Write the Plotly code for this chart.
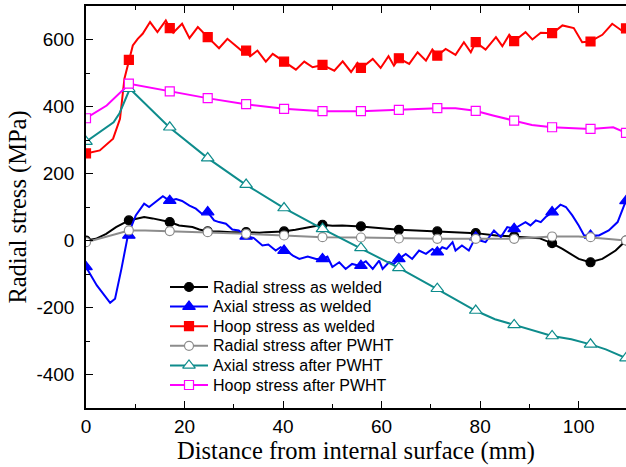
import plotly.graph_objects as go

# ---------------- data ----------------
MARKER_X = [0, 8.7, 17, 24.7, 32.5, 40.2, 48, 55.8, 63.5, 71.3, 79.1, 86.9, 94.6, 102.4, 109.6]

HOOP_W_X = [0, 2.8, 5.5, 6.9, 7.8, 8.7, 9.5, 10.5, 11.5, 13, 14.5, 16.2, 17, 17.7, 19.5, 21, 22.7,
            24.7, 25.6, 27, 28.7, 31.8, 32.5, 33.3, 34.8, 36.5, 37.9, 40.2, 42.6, 44.3, 46, 48, 50.4,
            52.1, 53.8, 55.1, 55.9, 58.2, 59.8, 61.4, 62.5, 63.5, 65.6, 67.3, 69, 70.3, 71.3, 73, 75,
            76.7, 78.1, 79.1, 81.1, 83.2, 84.5, 85.9, 86.9, 89.2, 90.6, 92.3, 94.7, 96.7, 99, 100.7,
            102.3, 104.8, 106.8, 108.7, 109.6]
HOOP_W_Y = [260, 269, 304, 363, 483, 539, 582, 602, 617, 652, 622, 657, 634, 620, 647, 604, 637,
            607, 594, 574, 602, 564, 567, 550, 567, 534, 557, 534, 510, 534, 517, 524, 507,
            535, 503, 530, 515, 542, 515, 550, 522, 544, 527, 562, 537, 570, 552, 572, 554,
            592, 562, 592, 570, 607, 580, 614, 595, 622, 600, 620, 619, 642, 634, 592,
            594, 614, 647, 627, 633]
HOOP_W_MY = [260, 539, 634, 607, 567, 534, 524, 515, 544, 552, 592, 595, 619, 594, 633]

AXIAL_W_X = [0, 2.2, 4.9, 5.9, 7.2, 8.5, 10.1, 11.8, 12.8, 14.2, 15.6, 16.9, 18.3, 19.5, 21, 22.3,
             23.5, 24.7, 26, 27, 28.4, 29.7, 31, 32.5, 34, 35.8, 37, 38.5, 39.5, 40.6, 42, 43.3, 45,
             46.7, 48, 49, 50, 51.4, 52.7, 54, 55.4, 56.8, 58.2, 59.5, 60.2, 61.5, 62.5, 63.5, 64.9,
             66.2, 67.6, 69, 70.3, 71.3, 72.3, 73.2, 74.4, 75, 76.3, 77.7, 79.1, 80, 81.1, 82.8, 84.2,
             85.5, 86.9, 89.2, 90.2, 91.3, 92.3, 93.3, 94.7, 96.3, 97.4, 98.7, 100, 101.1, 102.4,
             104.1, 106.1, 107.9, 109.2, 109.6]
AXIAL_W_Y = [-79, -134, -186, -174, -84, 15, 75, 110, 100, 115, 132, 119, 124, 118, 104, 95,
             80, 85, 60, 55, 50, 33, 30, 12, 8, -15, -12, -30, -20, -30, -45, -55, -48,
             -55, -55, -48, -79, -65, -85, -70, -75, -62, -85, -60, -85, -65, -70, -55, -40,
             -55, -30, -40, -25, -35, -20, -25, -5, -30, -15, -30, 10, 0, -5, 30, 10,
             40, 35, 55, 45, 60, 55, 70, 85, 107, 100, 75, 45, 15, 15,
             15, 30, 55, 104, 118]
AXIAL_W_MY = [-79, 15, 119, 85, 12, -30, -55, -75, -55, -35, 10, 35, 85, 15, 118]

RADIAL_W_X = [0, 2, 4.1, 6.1, 8.7, 10, 11.8, 13.5, 15.5, 17, 18.9, 21.6, 23, 24.7, 27, 29.5, 32.6,
              35.2, 36.5, 39.9, 42.5, 45.3, 48, 50, 52, 55.8, 59, 63.5, 67, 71.3, 73, 79.1, 83.2,
              88, 92, 94.5, 96.7, 100, 102.3, 104.8, 107.5, 109.6]
RADIAL_W_Y = [0, 5, 20, 40, 60, 65, 70, 66, 60, 55, 45, 40, 33, 27, 27, 25, 25,
              23, 25, 27, 32, 40, 47, 44, 45, 42, 38, 32, 30, 27, 25, 22, 15,
              10, 7, -8, -25, -55, -65, -55, -30, 0]
RADIAL_W_MY = [0, 60, 55, 27, 25, 27, 47, 42, 32, 27, 22, 13, -8, -65, 0]

RADIAL_P_X = [0, 4, 8.7, 12, 17, 24.7, 32.6, 40.2, 48, 55.8, 63.5, 71.3, 79.1, 86.9, 94.5, 100,
              105.5, 109.6]
RADIAL_P_Y = [-5, 12, 30, 30, 28, 25, 20, 15, 10, 9, 6, 5, 5, 5, 12, 12, 5, 0]
RADIAL_P_MY = [-5, 30, 28, 25, 20, 15, 10, 9, 6, 5, 5, 5, 12, 10, 0]

AXIAL_P_X = [0, 2.8, 5.6, 6.8, 8.9, 16.9, 24.7, 32.4, 40.2, 48, 55.7, 63.5, 71.1, 79, 83, 86.9,
             91, 94.6, 98.5, 102.4, 105.5, 109.6]
AXIAL_P_Y = [295, 324, 353, 380, 453, 338, 246, 167, 97, 35, -22, -82, -144, -209, -235, -252,
             -268, -285, -295, -310, -325, -351]
AXIAL_P_MY = [295, 453, 338, 246, 167, 97, 35, -22, -82, -144, -209, -252, -285, -310, -351]

HOOP_P_X = [0, 4.2, 8.8, 16.9, 24.6, 32.4, 40.2, 48, 55.8, 63.5, 71.3, 75, 79, 82.6, 86.9, 90.5,
            94.6, 98.5, 102.4, 107, 109.6]
HOOP_P_Y = [365, 403, 468, 445, 425, 407, 393, 386, 386, 390, 395, 395, 387, 373, 358, 345,
            338, 335, 333, 338, 321]
HOOP_P_MY = [365, 468, 445, 425, 407, 393, 386, 386, 390, 395, 387, 358, 338, 333, 321]

X_TICKS = [0, 20, 40, 60, 80, 100]
X_TICK_TEXT = ["0", "20", "40", "60", "80", "100"]
Y_TICKS = [-400, -200, 0, 200, 400, 600]
Y_TICK_TEXT = ["-400", "-200", "0", "200", "400", "600"]

SERIES_NAMES = ["Radial stress as welded", "Axial stress as welded", "Hoop stress as welded",
                "Radial stress after PWHT", "Axial stress after PWHT", "Hoop stress after PWHT"]

# ---------------- styles ----------------
STYLES = [
    dict(col="#000000", sym="circle", fill="#000000", ms=9),
    dict(col="#0000FF", sym="triangle-up", fill="#0000FF", ms=11),
    dict(col="#FF0000", sym="square", fill="#FF0000", ms=9),
    dict(col="#8C8C8C", sym="circle", fill="#FFFFFF", ms=9),
    dict(col="#0E8C8C", sym="triangle-up", fill="#FFFFFF", ms=11),
    dict(col="#FF00FF", sym="square", fill="#FFFFFF", ms=9),
]
SERIES_DATA = [
    (RADIAL_W_X, RADIAL_W_Y, RADIAL_W_MY),
    (AXIAL_W_X, AXIAL_W_Y, AXIAL_W_MY),
    (HOOP_W_X, HOOP_W_Y, HOOP_W_MY),
    (RADIAL_P_X, RADIAL_P_Y, RADIAL_P_MY),
    (AXIAL_P_X, AXIAL_P_Y, AXIAL_P_MY),
    (HOOP_P_X, HOOP_P_Y, HOOP_P_MY),
]

# plot-area geometry in pixels
FIG_W, FIG_H = 626, 467
M_L, M_R, M_T, M_B = 86, 0, 6, 59
PLOT_W = FIG_W - M_L - M_R
PLOT_H = FIG_H - M_T - M_B

# legend layout (pixel offsets inside the plot area, via a hidden helper axis)
LEG_LINE_X0, LEG_LINE_X1 = 84, 122
LEG_TEXT_X = 125
LEG_ROW0_Y = 121
LEG_ROW_STEP = 19.6
SANS = "Liberation Sans, Arial, sans-serif"
SERIF = "Liberation Serif, Times New Roman, serif"

fig = go.Figure()
for name, (xs, ys, mys), st in zip(SERIES_NAMES, SERIES_DATA, STYLES):
    assert len(xs) == len(ys) and len(mys) == len(MARKER_X)
    fig.add_trace(go.Scatter(x=xs, y=ys, mode="lines", line=dict(color=st["col"], width=2),
                             showlegend=False, hoverinfo="skip"))
    fig.add_trace(go.Scatter(x=MARKER_X, y=mys, mode="markers", showlegend=False, name=name,
                             marker=dict(symbol=st["sym"], size=st["ms"], color=st["fill"],
                                         line=dict(color=st["col"], width=1.2))))

annotations = []
for i, (name, st) in enumerate(zip(SERIES_NAMES, STYLES)):
    yy = LEG_ROW0_Y - LEG_ROW_STEP * i
    fig.add_trace(go.Scatter(x=[LEG_LINE_X0, LEG_LINE_X1], y=[yy, yy], xaxis="x2", yaxis="y2",
                             mode="lines", line=dict(color=st["col"], width=2),
                             showlegend=False, hoverinfo="skip"))
    fig.add_trace(go.Scatter(x=[(LEG_LINE_X0 + LEG_LINE_X1) / 2], y=[yy], xaxis="x2", yaxis="y2",
                             mode="markers", showlegend=False, hoverinfo="skip", cliponaxis=False,
                             marker=dict(symbol=st["sym"], size=st["ms"], color=st["fill"],
                                         line=dict(color=st["col"], width=1.2))))
    annotations.append(dict(x=LEG_TEXT_X, y=yy, xref="x2", yref="y2", text=name, showarrow=False,
                            xanchor="left", yanchor="middle",
                            font=dict(family=SANS, size=16, color="#000000")))

axis_common = dict(
    showgrid=False, zeroline=False, showline=True, linecolor="#000000", linewidth=1.5,
    ticks="inside", ticklen=7, tickwidth=1.3, tickcolor="#000000",
    tickfont=dict(family=SANS, size=19, color="#000000"),
)

fig.update_layout(
    xaxis=dict(
        range=[0, 109.6], tickvals=X_TICKS, ticktext=X_TICK_TEXT, mirror="ticks",
        minor=dict(ticks="inside", ticklen=4, tickwidth=1.3, tickcolor="#000000", dtick=10, tick0=0),
        title=dict(text="Distance from internal surface (mm)",
                   font=dict(family=SERIF, size=24.5, color="#000000"), standoff=6),
        **axis_common,
    ),
    yaxis=dict(
        range=[-500, 700], tickvals=Y_TICKS, ticktext=Y_TICK_TEXT, mirror=False,
        ticklabelstandoff=6,
        minor=dict(ticks="inside", ticklen=4, tickwidth=1.3, tickcolor="#000000", dtick=100, tick0=0),
        title=dict(text="Radial stress (MPa)",
                   font=dict(family=SERIF, size=24.5, color="#000000"), standoff=3),
        **axis_common,
    ),
    xaxis2=dict(range=[0, PLOT_W], overlaying="x", visible=False, fixedrange=True),
    yaxis2=dict(range=[0, PLOT_H], overlaying="y", visible=False, fixedrange=True),
    width=FIG_W, height=FIG_H,
    margin=dict(l=M_L, r=M_R, t=M_T, b=M_B, pad=0),
    paper_bgcolor="#FFFFFF", plot_bgcolor="#FFFFFF",
    showlegend=False,
    annotations=annotations,
)

fig.write_html("out.html")
